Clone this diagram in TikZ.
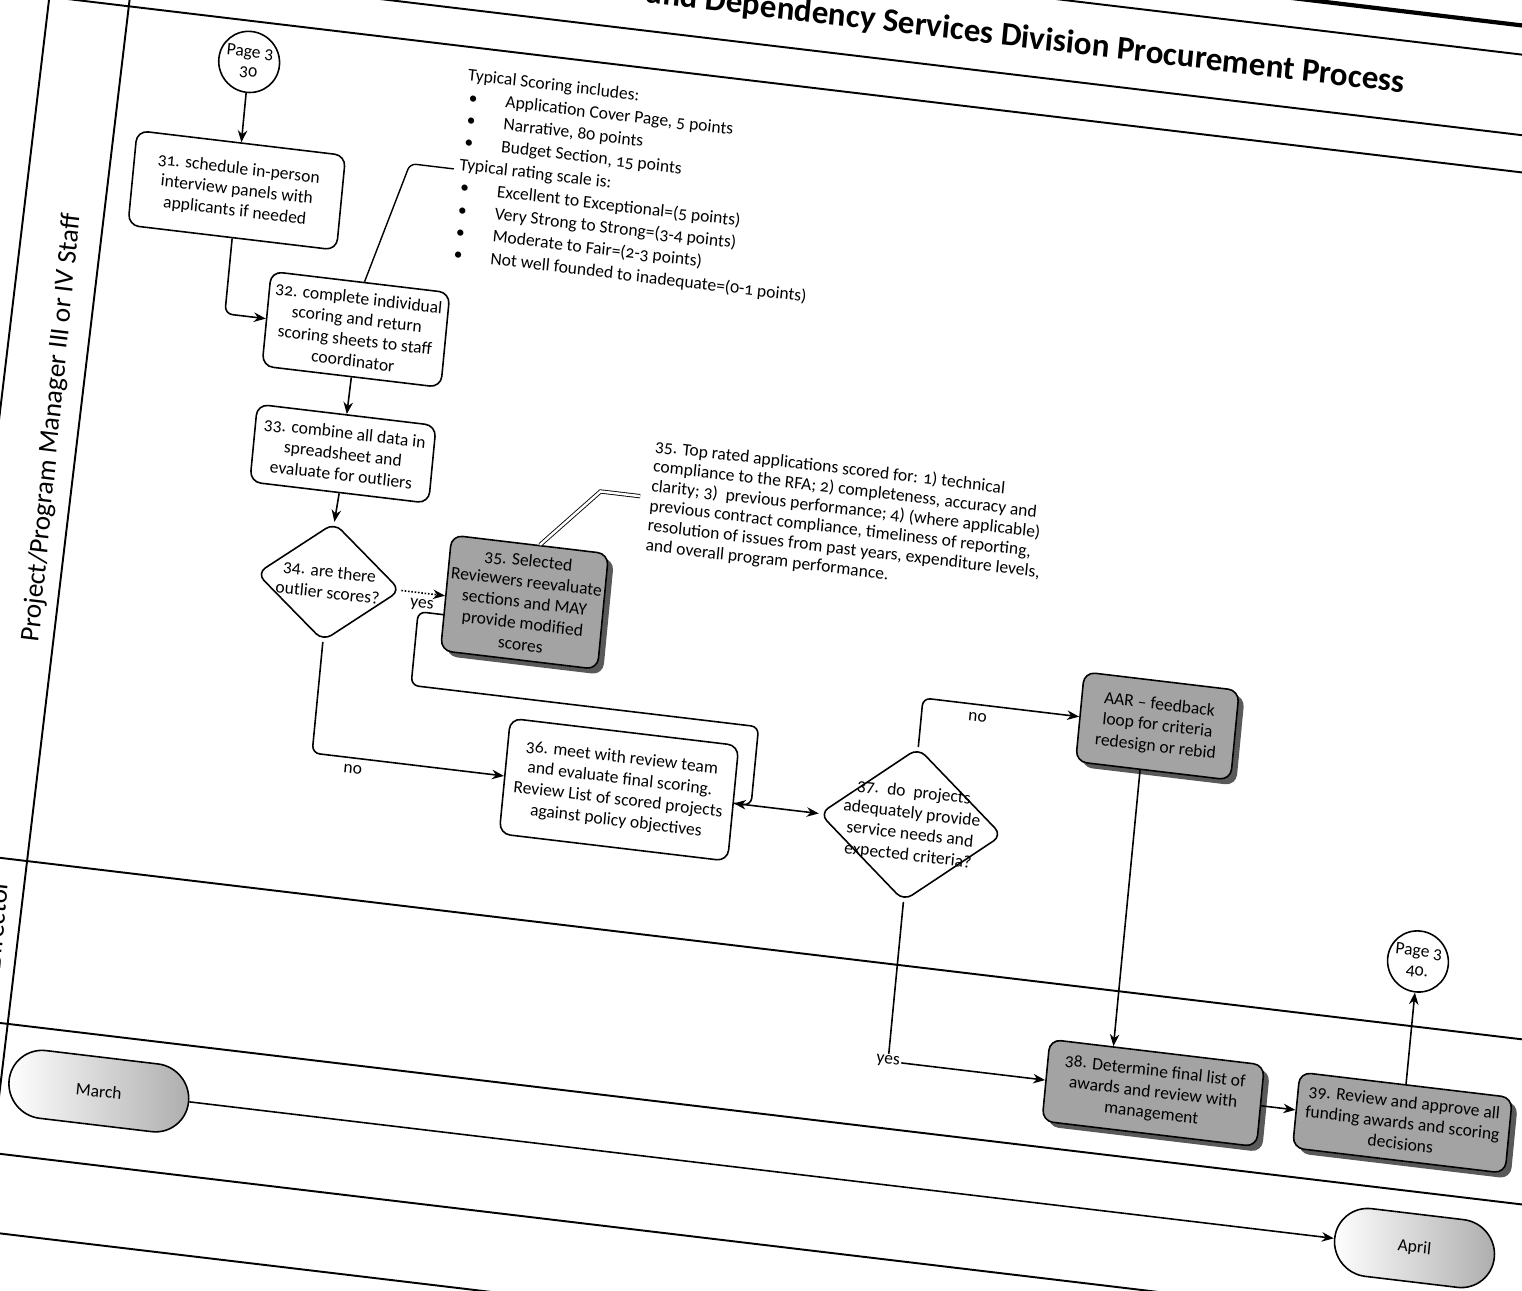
\documentclass[tikz,border=0pt]{standalone}
\usepackage{fontspec}
\setmainfont{Carlito}[Numbers=OldStyle]
\usetikzlibrary{arrows.meta, positioning, shapes.geometric, shapes.misc, shadows}

\begin{document}
\begin{tikzpicture}[
  x=0.02cm, y=-0.02cm,
  every node/.style={transform shape},
  procbox/.style={rectangle, draw, rounded corners=2.2mm, line width=0.9pt, fill=white, align=center, inner sep=0pt, font=\fontsize{10}{12}\selectfont},
  grayproc/.style={procbox, fill=black!36, drop shadow={shadow xshift=1.1mm, shadow yshift=-1.1mm, opacity=1, fill=black!65}},
  decision/.style={diamond, draw, rounded corners=2mm, line width=0.9pt, fill=white, inner sep=0pt},
  dtext/.style={align=center, inner sep=0pt, font=\fontsize{10}{12}\selectfont},
  pageref/.style={circle, draw, line width=0.9pt, fill=white, minimum size=1.22cm, inner sep=0pt, align=center, font=\fontsize{10}{11}\selectfont},
  monthbox/.style={rounded rectangle, draw, line width=0.9pt, minimum height=1.36cm, left color=white, right color=black!32, font=\fontsize{10}{12}\selectfont},
  note/.style={align=left, inner sep=0pt, anchor=north west},
  lbl/.style={inner sep=1pt, font=\fontsize{10}{12}\selectfont},
  arr/.style={-{Stealth[length=2.4mm, width=1.9mm]}, line width=0.9pt},
  lane/.style={line width=1.1pt}
]
\useasboundingbox (0,0) rectangle (1522,1291);
\fill[white] (0,0) rectangle (1522,1291);
\clip (0,0) rectangle (1522,1291);

\begin{scope}[cm={0.99297,-0.11841,0.09585,0.99540,(0,0)}]

% swimlane frame
\draw[lane] (130,-60) -- (99,1320);
\draw[lane] (50,-60) -- (19,1320);
\draw[line width=2.4pt] (1240,-155) -- (1800,-155);
\draw[lane] (40,-126) -- (1800,-126);
\draw[lane] (40,-46) -- (1800,-46);
\draw[lane] (40,-9) -- (1800,-9);
\draw[lane] (-100,852) -- (1800,852);
\draw[lane] (-100,1016) -- (1800,1016);
\draw[lane] (-100,1146) -- (1800,1146);
\draw[lane] (-100,1225) -- (1800,1225);

\node[font=\bfseries\fontsize{18.8}{22}\selectfont, anchor=east, inner sep=0pt] (title) at (1407,-83) {and Dependency Services Division Procurement Process};
\node[rotate=90, font=\fontsize{15.5}{18}\selectfont] (lanepm) at (93,419) {Project/Program Manager III or IV Staff};
\node[rotate=90, anchor=east, font=\fontsize{15.5}{18}\selectfont] (lanedir) at (84,868) {Director};

% steps
\node[pageref] (p30) at (254,32) {Page 3\\30};
\node[procbox, minimum width=4.2cm, minimum height=1.9cm] (b31) at (254,161) {31. schedule in-person\\interview panels with\\applicants if needed};
\node[procbox, minimum width=3.6cm, minimum height=1.9cm] (b32) at (386,285) {32. complete individual\\scoring and return\\scoring sheets to staff\\coordinator};
\node[procbox, minimum width=3.6cm, minimum height=1.56cm] (b33) at (385,410) {33. combine all data in\\spreadsheet and\\evaluate for outliers};
\node[decision, minimum width=2.9cm, minimum height=2.38cm] (d34) at (383,539) {};
\node[dtext] (d34t) at (d34) {34. are there\\outlier scores?};
\node[grayproc, minimum width=3.16cm, minimum height=2.32cm] (b35) at (580,536) {35. Selected\\Reviewers reevaluate\\sections and MAY\\provide modified\\scores};
\node[procbox, minimum width=4.6cm, minimum height=2.32cm] (b36) at (692,711) {36. meet with review team\\and evaluate final scoring.\\Review List of scored projects\\against policy objectives};
\node[decision, minimum width=3.68cm, minimum height=3.08cm] (d37) at (986,711) {};
\node[dtext] (d37t) at (d37) {37.\ \ do\ \ projects\\adequately provide\\service needs and\\expected criteria?};
\node[grayproc, minimum width=3.12cm, minimum height=1.8cm] (aar) at (1222,584) {AAR -- feedback\\loop for criteria\\redesign or rebid};
\node[grayproc, minimum width=4.32cm, minimum height=1.64cm] (b38) at (1253,949) {38. Determine final list of\\awards and review with\\management};
\node[grayproc, minimum width=4.28cm, minimum height=1.52cm] (b39) at (1504,949) {39. Review and approve all\\funding awards and scoring\\decisions};
\node[pageref] (p40) at (1504,787) {Page 3\\40.};
\node[monthbox, minimum width=3.85cm] (march) at (203,1072) {March};
\node[monthbox, minimum width=3.45cm] (april) at (1528,1072) {April};

% notes
\node[note, font=\fontsize{10}{12.8}\selectfont] (scoring) at (473,12) {Typical Scoring includes:\\
\makebox[8mm][l]{\hspace{0.6mm}\textbullet}Application Cover Page, 5 points\\
\makebox[8mm][l]{\hspace{0.6mm}\textbullet}Narrative, 80 points\\
\makebox[8mm][l]{\hspace{0.6mm}\textbullet}Budget Section, 15 points\\
Typical rating scale is:\\
\makebox[8mm][l]{\hspace{0.6mm}\textbullet}Excellent to Exceptional=(5 points)\\
\makebox[8mm][l]{\hspace{0.6mm}\textbullet}Very Strong to Strong=(3-4 points)\\
\makebox[8mm][l]{\hspace{0.6mm}\textbullet}Moderate to Fair=(2-3 points)\\
\makebox[8mm][l]{\hspace{0.6mm}\textbullet}Not well founded to inadequate=(0-1 points)};
\node[note, font=\fontsize{10}{11.3}\selectfont] (note35) at (695,358) {35. Top rated applications scored for: 1) technical\\
compliance to the RFA; 2) completeness, accuracy and\\
clarity; 3)\ \ previous performance; 4) (where applicable)\\
previous contract compliance, timeliness of reporting,\\
resolution of issues from past years, expenditure levels,\\
and overall program performance.};

\coordinate (scoretip) at (468,114);
\coordinate (notetip) at (685,417);
\coordinate (lpA) at (475,558);
\draw[line width=0.8pt, rounded corners=1.2mm] ([xshift=0.08cm]b32.north) -- (424,114) -- (scoretip);
\draw[line width=0.5pt, double, double distance=1.4pt] ([xshift=0.2cm]b35.north) -- (645,417) -- (notetip);

% flow
\draw[arr] (p30) -- (b31);
\draw[arr, rounded corners=1.5mm] (b31.south) |- (b32.west);
\draw[arr] (b32.south) -- (b33.north);
\draw[arr] (b33.south) -- (d34.north);
\draw[arr, densely dotted] (d34.east) -- (d34.east -| b35.west);
\draw[arr, rounded corners=1.5mm] (d34.south) |- (b36.west);
\draw[arr, rounded corners=1.5mm] (b35.west |- lpA) -- (lpA) -- (475,632) -- (825,632) |- (b36.east);
\draw[arr] (b36.east) -- (d37.west);
\draw[arr, rounded corners=1.5mm] (d37.north) |- (aar.west);
\draw[arr] ([xshift=-0.26cm]aar.south) -- ([xshift=-0.26cm]aar.south |- b38.north);
\draw[arr, rounded corners=1.5mm] (d37.south) |- (b38.west) node[lbl, pos=0.5, fill=white] (yes37) {yes};
\draw[arr] (b38) -- (b39);
\draw[arr] (b39) -- (p40);
\draw[arr] (march) -- (april);

\node[lbl] (yes34) at (478,551) {yes};
\node[lbl] (no34) at (425,722) {no};
\node[lbl] (no37) at (1042,597) {no};

\end{scope}
\end{tikzpicture}
\end{document}
